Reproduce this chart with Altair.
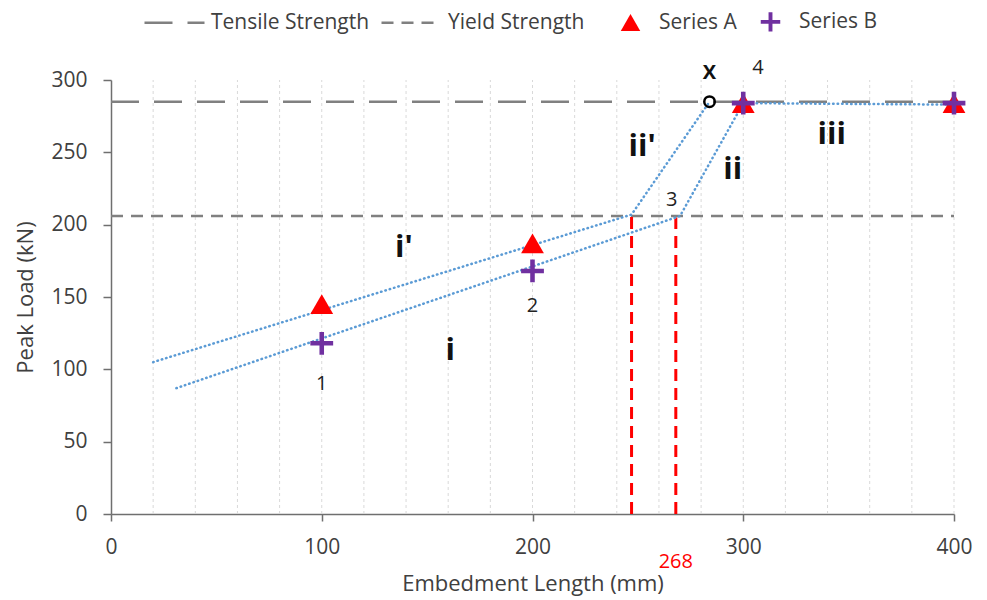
import altair as alt
import pandas as pd

FONT = "Open Sans"
TEXT = "#404040"
AXIS = "#6f6f6f"
BLUE = "#5b9bd5"

# Measured points
series = ["Series A", "Series A", "Series A", "Series A",
          "Series B", "Series B", "Series B", "Series B"]
embed_len = [100, 200, 300, 400, 100, 200, 300, 400]
peak_load = [145, 187, 284, 284, 118, 168, 284, 284]

# Strength limits
limit_names = ["Tensile Strength", "Yield Strength"]
limit_loads = [285, 206]

# Fitted trend segments
trend_names = ["upper", "upper", "upper", "lower", "lower", "lower", "lower"]
trend_x = [20, 247, 284, 31, 270, 300, 400]
trend_y = [105, 207, 285, 87, 206, 284, 283]

# Embedment lengths at first yield
yield_x = [247, 268]
yield_top = [207, 205]

# Point at which the upper trend reaches the tensile strength
x_point = [284]
x_load = [285]

# Point numbers and region labels
num_text = ["1", "2", "3", "4"]
num_x = [100, 200, 266, 307]
num_y = [90, 144, 217, 308]
mark_text = ["X"]
mark_x = [284]
mark_y = [305]
region_text = ["i'", "i", "ii'", "ii", "iii"]
region_x = [139, 161, 252, 295, 342]
region_y = [184, 113, 254, 238, 262]

grid_x = [20, 40, 60, 80, 100, 120, 140, 160, 180, 200,
          220, 240, 260, 280, 300, 320, 340, 360, 380, 400]

pts = pd.DataFrame({"series": series, "x": embed_len, "y": peak_load})
limits = pd.DataFrame({"name": limit_names, "y": limit_loads,
                       "x0": [0] * 2, "x1": [400] * 2})
trend = pd.DataFrame({"name": trend_names, "x": trend_x, "y": trend_y,
                      "order": list(range(len(trend_x)))})
yl = pd.DataFrame({"x": yield_x, "y0": [0] * 2, "y1": yield_top})
xp = pd.DataFrame({"x": x_point, "y": x_load})
nums = pd.DataFrame({"t": num_text, "x": num_x, "y": num_y})
marks = pd.DataFrame({"t": mark_text, "x": mark_x, "y": mark_y})
regions = pd.DataFrame({"t": region_text, "x": region_x, "y": region_y})
grid = pd.DataFrame({"x": grid_x, "y0": [0] * len(grid_x), "y1": [300] * len(grid_x)})
lbl268 = pd.DataFrame({"t": ["268"], "x": [268], "y": [-33]})

xs = alt.Scale(domain=[0, 400], nice=False)
ys = alt.Scale(domain=[0, 300], nice=False)

x_axis = alt.Axis(values=[0, 100, 200, 300, 400], grid=False, labelFlush=False,
                  title="Embedment Length (mm)", tickSize=7, labelPadding=15,
                  titlePadding=16, titleFontSize=22)
y_axis = alt.Axis(values=[0, 50, 100, 150, 200, 250, 300], grid=False,
                  title="Peak Load (kN)", tickSize=8, labelPadding=16,
                  titlePadding=13, titleFontSize=22)

gridlines = alt.Chart(grid).mark_rule(color="#d9d9d9", strokeDash=[3, 3],
                                      strokeWidth=1).encode(
    x=alt.X("x:Q", scale=xs, axis=x_axis),
    y=alt.Y("y0:Q", scale=ys, axis=y_axis),
    y2="y1:Q",
)

limit_rules = alt.Chart(limits).mark_rule(color="#808080", strokeWidth=2.5).encode(
    x=alt.X("x0:Q", scale=xs),
    x2="x1:Q",
    y=alt.Y("y:Q", scale=ys),
    strokeDash=alt.StrokeDash(
        "name:N",
        scale=alt.Scale(domain=limit_names, range=[[28, 15], [12, 8]]),
        legend=alt.Legend(
            title=None, orient="none", direction="horizontal",
            legendX=32, legendY=-89, symbolType="stroke",
            symbolStrokeColor="#808080", symbolStrokeWidth=2.5,
            symbolSize=3600, labelFont=FONT, labelFontSize=21,
            labelColor=TEXT, labelOffset=5, columnPadding=6,
        ),
    ),
)

trend_lines = alt.Chart(trend).mark_line(
    color=BLUE, strokeWidth=2.5, strokeDash=[0.5, 4], strokeCap="round"
).encode(
    x=alt.X("x:Q", scale=xs),
    y=alt.Y("y:Q", scale=ys),
    detail="name:N",
    order="order:Q",
)

yield_rules = alt.Chart(yl).mark_rule(color="#ff0000", strokeWidth=3,
                                      strokeDash=[12, 7]).encode(
    x=alt.X("x:Q", scale=xs),
    y=alt.Y("y0:Q", scale=ys),
    y2="y1:Q",
)

series_legend = alt.Legend(
    title=None, orient="none", direction="horizontal",
    legendX=509, legendY=-69, labelFont=FONT,
    labelFontSize=21, labelColor=TEXT, labelOffset=18,
    columnPadding=20, symbolSize=380, symbolOpacity=1,
)
cross = "M-1,-0.2H-0.2V-1H0.2V-0.2H1V0.2H0.2V1H-0.2V0.2H-1Z"
points = alt.Chart(pts).mark_point(filled=True, opacity=1, size=520).encode(
    x=alt.X("x:Q", scale=xs),
    y=alt.Y("y:Q", scale=ys),
    color=alt.Color("series:N",
                    scale=alt.Scale(domain=["Series A", "Series B"],
                                    range=["#ff0000", "#7030a0"]),
                    legend=series_legend),
    shape=alt.Shape("series:N",
                    scale=alt.Scale(domain=["Series A", "Series B"],
                                    range=["triangle-up", cross]),
                    legend=series_legend),
)

x_marker = alt.Chart(xp).mark_point(shape="circle", filled=False, color="black",
                                    strokeWidth=2.5, size=110, opacity=1).encode(
    x=alt.X("x:Q", scale=xs),
    y=alt.Y("y:Q", scale=ys),
)

num_labels = alt.Chart(nums).mark_text(font=FONT, fontSize=20, color="#222222").encode(
    x=alt.X("x:Q", scale=xs),
    y=alt.Y("y:Q", scale=ys),
    text="t:N",
)

mark_label = alt.Chart(marks).mark_text(font=FONT, fontSize=20, fontWeight="bold",
                                        color="#111111").encode(
    x=alt.X("x:Q", scale=xs),
    y=alt.Y("y:Q", scale=ys),
    text="t:N",
)

region_labels = alt.Chart(regions).mark_text(font=FONT, fontSize=31,
                                             fontWeight="bold", color="#111111").encode(
    x=alt.X("x:Q", scale=xs),
    y=alt.Y("y:Q", scale=ys),
    text="t:N",
)

red_label = alt.Chart(lbl268).mark_text(font=FONT, fontSize=20, color="#ff0000").encode(
    x=alt.X("x:Q", scale=xs),
    y=alt.Y("y:Q", scale=ys),
    text="t:N",
)

chart = alt.layer(
    gridlines, limit_rules, yield_rules, trend_lines, points, x_marker,
    num_labels, mark_label, region_labels, red_label,
).resolve_scale(
    color="independent", strokeDash="independent", shape="independent"
).properties(
    width=843, height=434,
    autosize=alt.AutoSizeParams(type="none"),
    padding={"left": 111, "top": 80, "right": 33, "bottom": 86},
    background="white",
).configure_view(stroke=None).configure_axis(
    labelFont=FONT, labelFontSize=21, labelColor=TEXT,
    titleFont=FONT, titleFontWeight="normal", titleColor=TEXT,
    domainColor=AXIS, domainWidth=1.5, tickColor=AXIS, tickWidth=1.5,
)

chart.save("out.html", embed_options={"renderer": "svg", "actions": False})
